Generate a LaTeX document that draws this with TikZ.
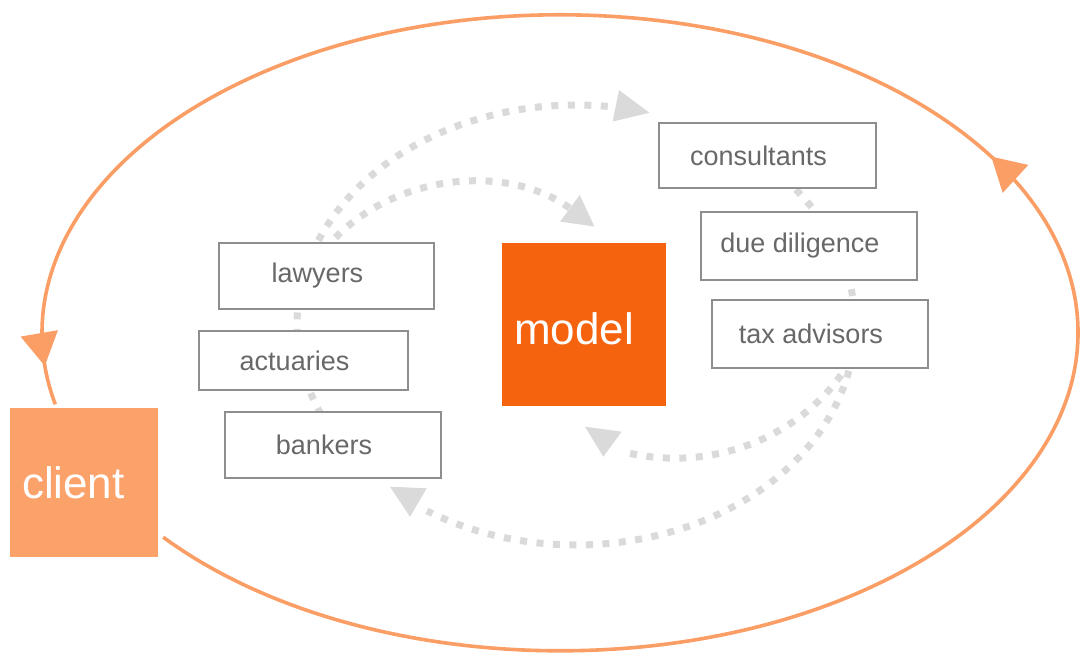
\documentclass[tikz,border=0pt]{standalone}
\usepackage{fontspec}
\setmainfont{Liberation Sans}
\usetikzlibrary{arrows.meta,backgrounds,calc,decorations.markings}

\definecolor{loopor}{HTML}{FA9E66}
\definecolor{clientor}{HTML}{FBA26B}
\definecolor{modelor}{HTML}{F5630F}
\definecolor{dotgrey}{HTML}{DADADA}
\definecolor{boxline}{HTML}{8E8E8E}
\definecolor{boxtext}{HTML}{686868}

\begin{document}
\begin{tikzpicture}[x=1pt,y=-1pt,
  party/.style={rectangle, draw=boxline, line width=2.2pt, fill=white,
    inner sep=0pt, text=boxtext, font=\fontsize{27}{30}\selectfont,
    execute at end node={\hspace*{18pt}}},
  hub/.style={rectangle, inner sep=0pt, text=white, align=left,
    font=\fontsize{44}{48}\selectfont},
  flow/.style={draw=dotgrey, line width=7pt, dash pattern=on 7pt off 9.5pt},
  greytip/.style={fill=dotgrey},
  cycleloop/.style={draw=loopor, line width=3.6pt,
    postaction={decorate},
    decoration={markings,
      mark=at position 0.517 with {\arrow{Triangle[length=33pt,width=37pt]}},
      mark=at position 0.984 with {\arrow{Triangle[length=33pt,width=37pt]}}}}
]
\useasboundingbox (0,0) rectangle (1082,655);

% central model and the client
\node[hub, fill=modelor, minimum width=164pt, minimum height=163pt,
      text width=140pt, text height=40pt] (model) at (584,324.5) {model};
\node[hub, fill=clientor, minimum width=148pt, minimum height=149pt,
      text width=124pt] (client) at (84,482.5) {client};

% advisers on the left
\node[party, minimum width=215pt, minimum height=66pt] (lawyers)   at (326.5,276)   {lawyers};
\node[party, minimum width=209pt, minimum height=59pt] (actuaries) at (303.5,360.5) {actuaries};
\node[party, minimum width=216pt, minimum height=66pt] (bankers)   at (333,445)     {bankers};

% advisers on the right
\node[party, minimum width=217pt, minimum height=65pt] (consultants)  at (767.5,155.5) {consultants};
\node[party, minimum width=216pt, minimum height=68pt] (duediligence) at (809,246)     {due diligence};
\node[party, minimum width=216pt, minimum height=68pt] (taxadvisors)  at (820,334)     {tax advisors};

% exchange between the adviser groups, running behind the boxes
\begin{scope}[on background layer]
  % outer ring: left group to consultants
  \draw[flow, -{Triangle[length=35pt,width=30pt]}]
    plot[domain=148:285.4, samples=90, variable=\t]
      ({576+279*cos(\t)},{325+220*sin(\t)});
  % outer ring: right group back to bankers
  \draw[flow]
    plot[domain=322:482.3, samples=110, variable=\t]
      ({576+279*cos(\t)},{325+220*sin(\t)});
  % inner ring: lawyers into the model
  \draw[flow, -{Triangle[length=31pt,width=31pt]}]
    ($(lawyers.north)+(-2,8)$) .. controls (385,175) and (505,160)
      .. ($(model.north west)+(93,-16)$);
  % inner ring: tax advisors into the model
  \draw[flow]
    ($(taxadvisors.south)+(30,-8)$) .. controls (810,430) and (720,475)
      .. ($(model.south west)+(123,46)$);
\end{scope}

% heads of the lower returns
\fill[greytip] (390,486.7) -- (426.7,488.3) -- (410,516.7) -- cycle;
\fill[greytip] (585,426.7) -- (621.7,431.7) -- (603.3,456.7) -- cycle;

% the client cycle around everything
\draw[cycleloop] ($(client.south east)+(5,-20)$)
  arc[start angle=140, end angle=-193, x radius=518, y radius=318];
\end{tikzpicture}
\end{document}
